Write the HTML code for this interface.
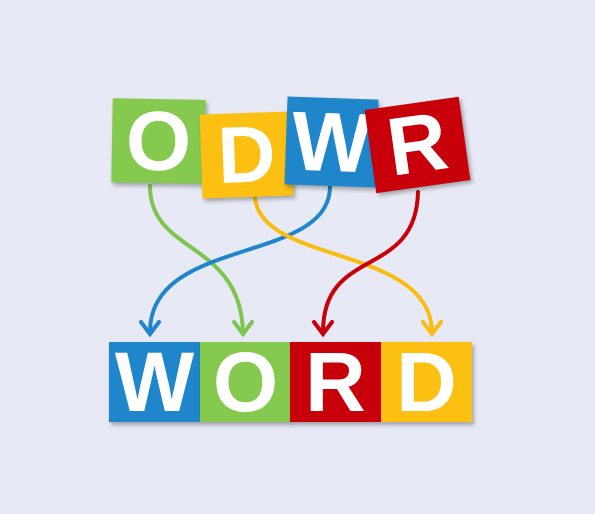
<!DOCTYPE html>
<html><head><meta charset="utf-8"><style>
html,body{margin:0;padding:0;width:595px;height:514px;background:#e7e9f5;overflow:hidden}
.t{position:absolute;color:#fff;font-family:"Liberation Sans",sans-serif;font-weight:bold;display:flex;align-items:center;justify-content:center;box-shadow:2px 3px 4px rgba(0,0,0,0.3)}
</style></head><body>
<svg width="595" height="514" style="position:absolute;left:0;top:0">
<g fill="none" stroke-width="4" stroke-linecap="round">
<path d="M150,186 C150,255 240,240 243,332" stroke="#7dc550"/>
<path d="M330,185 C332,265 150,235 150,332" stroke="#1f86cc"/>
<path d="M255,198 C262,265 430,245 432,332" stroke="#f8bd10"/>
<path d="M418,192 C416,280 323,245 323,332" stroke="#c8000a"/>
<path d="M141,322 L150,334 L159,322" stroke="#1f86cc"/>
<path d="M234,322 L243,334 L252,322" stroke="#7dc550"/>
<path d="M314,322 L323,334 L332,322" stroke="#c8000a"/>
<path d="M423,322 L432,334 L441,322" stroke="#f8bd10"/>
</g></svg>
<div class="t" style="left:112px;top:99px;width:93px;height:84px;background:#86c94f;font-size:84px;transform:rotate(1deg)">O</div>
<div class="t" style="left:201px;top:113px;width:91px;height:84px;background:#fbc011;font-size:80px;transform:rotate(-2deg)">D</div>
<div class="t" style="left:286px;top:98px;width:91px;height:88px;background:#1f86cc;font-size:84px;transform:rotate(2deg)">W</div>
<div class="t" style="left:370px;top:103px;width:95px;height:84px;background:#c8000a;font-size:82px;transform:rotate(-8deg)">R</div>
<div class="t" style="left:109px;top:342px;width:91px;height:80px;background:#1f86cc;font-size:84px">W</div>
<div class="t" style="left:200px;top:342px;width:91px;height:80px;background:#86c94f;font-size:84px">O</div>
<div class="t" style="left:290px;top:342px;width:91px;height:80px;background:#c8000a;font-size:84px">R</div>
<div class="t" style="left:381px;top:342px;width:91px;height:80px;background:#fbc011;font-size:84px">D</div>
</body></html>
